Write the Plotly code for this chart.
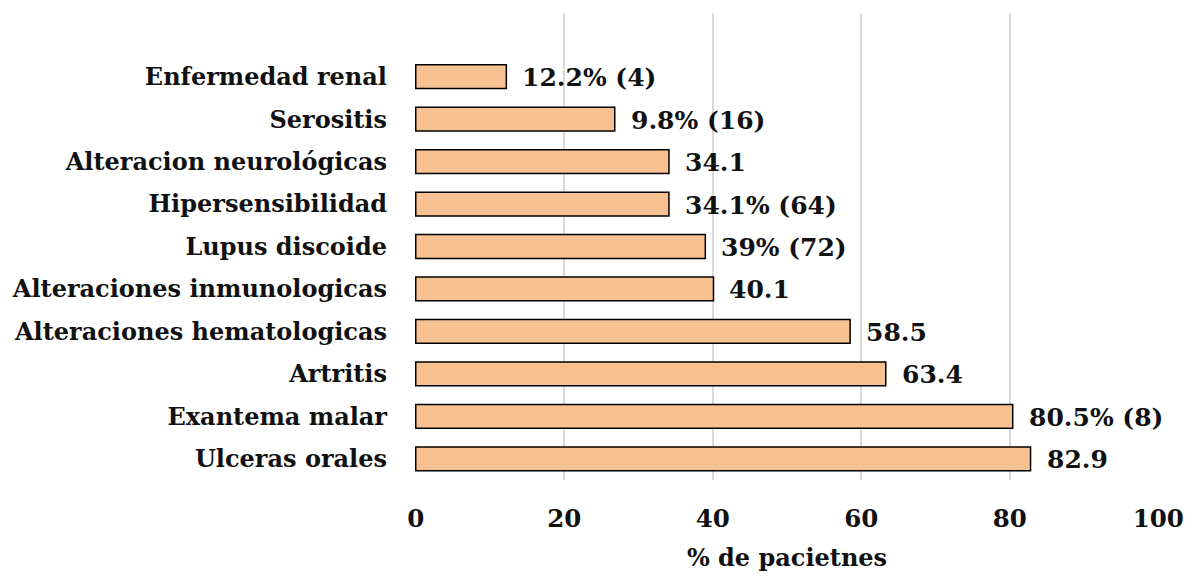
import plotly.graph_objects as go

categories = ["Ulceras orales", "Exantema malar", "Artritis", "Alteraciones hematologicas",
              "Alteraciones inmunologicas", "Lupus discoide", "Hipersensibilidad",
              "Alteracion neurológicas", "Serositis", "Enfermedad renal"]
values = [82.8, 80.4, 63.3, 58.5, 40.1, 39.0, 34.1, 34.1, 26.8, 12.2]
labels = ["82.9", "80.5% (8)", "63.4", "58.5", "40.1", "39% (72)", "34.1% (64)",
          "34.1", "9.8% (16)", "12.2% (4)"]
x_ticks = [0, 20, 40, 60, 80, 100]

FONT = "DejaVu Serif"
TXT = "#111111"

fig = go.Figure()
fig.add_trace(go.Bar(
    x=values, y=list(range(len(categories))), orientation="h",
    marker=dict(color="#F8C191", line=dict(color="#000000", width=1.5)),
    hoverinfo="skip",
))

for i, (v, lab) in enumerate(zip(values, labels)):
    fig.add_annotation(x=v, y=i, text=f"<b>{lab}</b>", showarrow=False,
                       xanchor="left", yanchor="middle", xshift=14, yshift=-1,
                       font=dict(family=FONT, size=25, color=TXT))

fig.update_layout(
    width=1196, height=578,
    margin=dict(l=410, r=33, t=13, b=95),
    paper_bgcolor="white", plot_bgcolor="white",
    bargap=0.44, showlegend=False,
    font=dict(family=FONT, color=TXT),
)
fig.update_xaxes(
    range=[-0.1, 100.1], tickvals=x_ticks, ticktext=[f"<b>{t}</b>" for t in x_ticks],
    tickfont=dict(family=FONT, size=24.5, color=TXT),
    showgrid=True, gridcolor="#D9D9D9", gridwidth=1.5,
    zeroline=False, showline=False, ticks="", ticklabelstandoff=21,
    ticklabeloverflow="allow",
    title=dict(text="<b>% de pacietnes</b>", font=dict(family=FONT, size=24, color=TXT), standoff=17),
)
fig.update_yaxes(
    range=[-0.5, 10.5], tickvals=list(range(len(categories))),
    ticktext=[f"<b>{c}</b>" for c in categories],
    tickfont=dict(family=FONT, size=24, color=TXT),
    showgrid=False, zeroline=False, showline=False, ticks="", ticklabelstandoff=27,
)

post = (
    "var h=document.documentElement, b=document.body;"
    "h.style.margin='0';h.style.padding='0';h.style.overflow='hidden';"
    "b.style.margin='0';b.style.padding='0';b.style.overflow='hidden';"
)
fig.write_html("out.html", config={"displayModeBar": False}, post_script=post)
